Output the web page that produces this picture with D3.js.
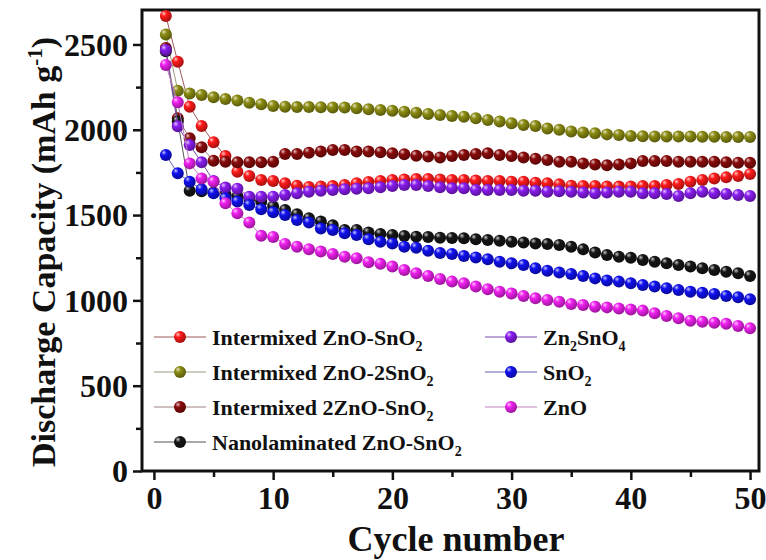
<!DOCTYPE html>
<html>
<head>
<meta charset="utf-8">
<script src="https://cdn.jsdelivr.net/npm/d3@7"></script>
<style>
  body { margin: 0; background: #fff; }
  svg text { font-family: "Liberation Serif", "Times New Roman", serif; font-weight: bold; fill: #111; }
</style>
</head>
<body>
<div id="chart"></div>
<script>
// cycle numbers on the x axis
var cycles = d3.range(1, 51);

// discharge capacity (mAh g-1)
var intermixedZnOSnO2 = [2667,2399,2135,2022,1927,1846,1754,1729,1706,1700,1686,1672,1665,1667,1670,1676,1686,
  1694,1700,1706,1709,1711,1711,1709,1706,1706,1703,1700,1700,1696,1696,1690,1686,1680,
  1672,1670,1670,1667,1667,1667,1670,1670,1676,1682,1696,1706,1715,1721,1729,1741];
var intermixedZnO2SnO2 = [2559,2229,2213,2204,2190,2180,2171,2159,2149,2139,2135,2133,2133,2132,2131,2130,2126,
  2120,2116,2112,2106,2100,2093,2087,2081,2077,2067,2057,2048,2038,2028,2022,2008,2000,
  1990,1984,1979,1973,1970,1964,1962,1961,1960,1960,1960,1959,1959,1958,1958,1958];
var intermixed2ZnOSnO2 = [2480,2067,1950,1897,1819,1813,1809,1809,1809,1813,1858,1858,1866,1872,1882,1882,1872,
  1872,1868,1862,1856,1848,1843,1838,1846,1852,1858,1862,1852,1846,1838,1830,1823,1813,
  1813,1803,1797,1792,1797,1803,1817,1817,1817,1813,1813,1813,1813,1809,1807,1807];
var nanolaminated = [2460,2050,1643,1640,1632,1622,1610,1595,1579,1550,1530,1505,1482,1462,1440,1413,1413,
  1398,1389,1383,1377,1373,1371,1367,1366,1364,1358,1354,1350,1344,1339,1334,1330,1325,
  1315,1299,1280,1266,1256,1250,1237,1227,1217,1207,1198,1188,1178,1168,1159,1143];
var zn2SnO4 = [2468,2020,1911,1809,1700,1661,1655,1608,1608,1608,1618,1628,1637,1643,1647,1651,1655,
  1657,1663,1670,1676,1676,1670,1663,1657,1657,1647,1647,1647,1647,1643,1643,1637,1640,
  1637,1632,1628,1632,1637,1637,1628,1628,1624,1612,1628,1637,1628,1624,1618,1612];
var snO2 = [1852,1745,1696,1651,1628,1598,1579,1559,1534,1516,1501,1471,1456,1422,1413,1393,1383,
  1358,1344,1334,1315,1309,1291,1278,1272,1260,1252,1241,1227,1217,1207,1188,1174,1163,
  1155,1143,1129,1116,1110,1100,1090,1081,1071,1061,1051,1045,1038,1026,1018,1006];
var znO = [2380,2161,1803,1715,1696,1569,1510,1456,1379,1372,1331,1315,1300,1286,1272,1256,1247,
  1223,1214,1198,1178,1159,1143,1125,1110,1100,1081,1065,1051,1041,1026,1012,1002,992,
  979,973,963,959,953,947,940,924,909,895,881,875,869,863,850,836];

var xTicks = [0, 10, 20, 30, 40, 50];
var yTicks = [0, 500, 1000, 1500, 2000, 2500];

// legend text: [main, sub, main, sub ...]
var series = [
  {name: ["Intermixed ZnO-SnO", "2"], values: intermixedZnOSnO2, color: "#ff1a1a", line: "#a05a5a", col: 0, row: 0},
  {name: ["Intermixed ZnO-2SnO", "2"], values: intermixedZnO2SnO2, color: "#8c8c12", line: "#9a9a80", col: 0, row: 1},
  {name: ["Intermixed 2ZnO-SnO", "2"], values: intermixed2ZnOSnO2, color: "#8a0a0a", line: "#a08080", col: 0, row: 2},
  {name: ["Nanolaminated ZnO-SnO", "2"], values: nanolaminated, color: "#151515", line: "#555555", col: 0, row: 3},
  {name: ["Zn", "2", "SnO", "4"], values: zn2SnO4, color: "#8a1cf0", line: "#7a50b0", col: 1, row: 0},
  {name: ["SnO", "2"], values: snO2, color: "#1010f0", line: "#6060b0", col: 1, row: 1},
  {name: ["ZnO", ""], values: znO, color: "#f020f0", line: "#c080c0", col: 1, row: 2}
];

var w = 766, h = 560;
var plotLeft = 142, plotRight = 759, plotTop = 10, plotBottom = 471;
var r = 6;

var svg = d3.select("#chart").append("svg")
  .attr("width", w)
  .attr("height", h);

var x = d3.scaleLinear().domain([-1, 50.75]).range([plotLeft, plotRight]);
var y = d3.scaleLinear().domain([0, 2702]).range([plotBottom, plotTop]);

// shaded ball gradients
var defs = svg.append("defs");
series.forEach(function(s, i) {
  var c = d3.color(s.color);
  var g = defs.append("radialGradient")
    .attr("id", "ball" + i)
    .attr("cx", "38%").attr("cy", "35%").attr("r", "65%")
    .attr("fx", "32%").attr("fy", "28%");
  g.append("stop").attr("offset", "0%").attr("stop-color", d3.interpolateRgb(s.color, "#fff")(0.75));
  g.append("stop").attr("offset", "35%").attr("stop-color", s.color);
  g.append("stop").attr("offset", "100%").attr("stop-color", c.darker(1.2).formatHex());
});

// axes
var yAxis = d3.axisLeft(y).tickValues(d3.range(0, 2701, 250)).tickSize(9).tickPadding(5)
  .tickFormat(function(d) { return yTicks.indexOf(d) >= 0 ? d : ""; });
var xAxis = d3.axisBottom(x).tickValues(d3.range(0, 51, 5)).tickSize(9).tickPadding(4)
  .tickFormat(function(d) { return xTicks.indexOf(d) >= 0 ? d : ""; });

var gy = svg.append("g").attr("transform", "translate(" + plotLeft + ",0)").call(yAxis);
var gx = svg.append("g").attr("transform", "translate(0," + plotBottom + ")").call(xAxis);
[gx, gy].forEach(function(g) {
  g.select(".domain").remove();
  g.selectAll(".tick line").attr("stroke", "#111").attr("stroke-width", 2.5);
  g.selectAll(".tick text").style("font-size", "32px");
});
gy.selectAll(".tick line").attr("x2", function(d) { return yTicks.indexOf(d) >= 0 ? -9 : -6; });
gx.selectAll(".tick line").attr("y2", function(d) { return xTicks.indexOf(d) >= 0 ? 9 : 6; });
gy.selectAll(".tick text").attr("dy", "0.34em");
gx.selectAll(".tick text").attr("dy", "0.78em");

// frame
svg.append("rect")
  .attr("x", plotLeft).attr("y", plotTop)
  .attr("width", plotRight - plotLeft).attr("height", plotBottom - plotTop)
  .attr("fill", "none").attr("stroke", "#111").attr("stroke-width", 3);

// series lines and balls
var line = d3.line()
  .x(function(d, i) { return x(cycles[i]); })
  .y(function(d) { return y(d); });

series.forEach(function(s, i) {
  var g = svg.append("g");
  g.append("path")
    .attr("d", line(s.values))
    .attr("fill", "none")
    .attr("stroke", s.line)
    .attr("stroke-width", 1);
  g.selectAll("circle")
    .data(s.values)
    .enter()
    .append("circle")
    .attr("cx", function(d, j) { return x(cycles[j]); })
    .attr("cy", function(d) { return y(d); })
    .attr("r", r)
    .attr("fill", "url(#ball" + i + ")");
});

// legend
var legend = svg.append("g");
var colX = [154, 485];
series.forEach(function(s, i) {
  var lx = colX[s.col];
  var ly = 337 + s.row * 35;
  var item = legend.append("g");
  item.append("line")
    .attr("x1", lx).attr("x2", lx + 52)
    .attr("y1", ly).attr("y2", ly)
    .attr("stroke", s.line).attr("stroke-width", 1.2);
  item.append("circle")
    .attr("cx", lx + 26).attr("cy", ly).attr("r", r)
    .attr("fill", "url(#ball" + i + ")");
  var t = item.append("text")
    .attr("x", lx + 58).attr("y", ly + 8)
    .style("font-size", "22px");
  for (var k = 0; k < s.name.length; k += 2) {
    t.append("tspan").attr("dy", k == 0 ? 0 : -6).text(s.name[k]);
    if (s.name[k + 1]) {
      t.append("tspan").attr("dy", 6).style("font-size", "14px").text(s.name[k + 1]);
    }
  }
});

// axis titles
svg.append("text")
  .attr("x", 456).attr("y", 551)
  .attr("text-anchor", "middle")
  .style("font-size", "36px")
  .text("Cycle number");

var yt = svg.append("text")
  .attr("transform", "translate(55,252) rotate(-90)")
  .attr("text-anchor", "middle")
  .style("font-size", "34px");
yt.append("tspan").text("Discharge Capacity (mAh g");
yt.append("tspan").attr("dy", -13).style("font-size", "21px").text("-1");
yt.append("tspan").attr("dy", 13).text(")");
</script>
</body>
</html>
